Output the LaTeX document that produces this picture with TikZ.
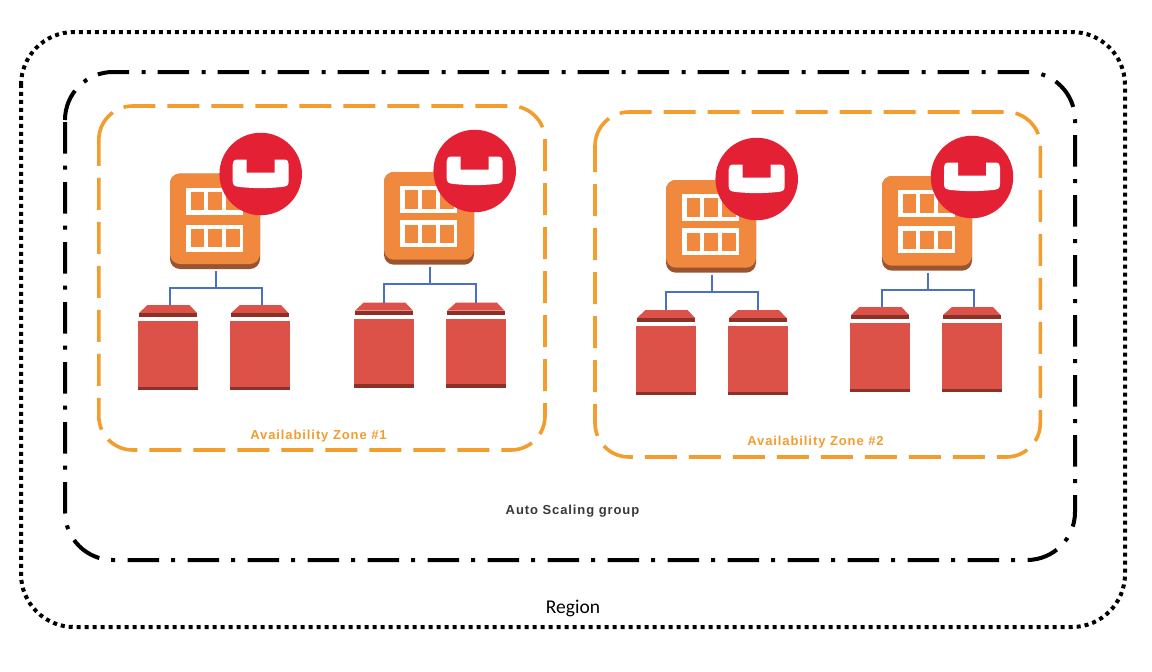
\documentclass[tikz,border=0pt]{standalone}
\usepackage{fontspec}
\setmainfont{Liberation Sans}
\newfontfamily\calfont{Carlito}
\definecolor{zoneor}{HTML}{F29D2E}
\definecolor{iconor}{HTML}{F0883D}
\definecolor{iconbr}{HTML}{9A5530}
\definecolor{cbred}{HTML}{E42034}
\definecolor{diskred}{HTML}{DC5249}
\definecolor{diskdk}{HTML}{8A3128}
\definecolor{linkblue}{HTML}{4A6FC4}
\tikzset{
  regionbox/.style={draw=black,line width=4pt,dash pattern=on 4pt off 4pt},
  asgbox/.style={draw=black,line width=4pt,dash pattern=on 31.5pt off 12.5pt on 4pt off 12pt},
  zonebox/.style={draw=zoneor,line width=3.6pt,dash pattern=on 32pt off 12pt},
  zonelabel/.style={text=zoneor,font=\bfseries\fontsize{13}{15}\selectfont\addfontfeatures{LetterSpace=7},inner sep=0pt},
  asglabel/.style={text=black!78,font=\bfseries\fontsize{13}{15}\selectfont\addfontfeatures{LetterSpace=7},inner sep=0pt},
  regionlabel/.style={text=black,font=\calfont\fontsize{19.5}{21}\selectfont,inner sep=0pt},
  link/.style={draw=linkblue,line width=1.5pt},
  iconbody/.style={fill=iconor,rounded corners=10pt},
  iconbase/.style={fill=iconbr,rounded corners=10pt},
  badge/.style={circle,fill=cbred,minimum size=82.5pt,inner sep=0pt},
  anchorbox/.style={minimum width=90pt,inner sep=0pt,outer sep=0pt},
  diskbody/.style={fill=diskred,minimum width=60pt,minimum height=69pt,inner sep=0pt,outer sep=0pt},
}
% rounded outline that starts where the top-left corner begins: style, x1, y1, x2, y2, radius
\newcommand{\roundoutline}[6]{%
  \draw[#1] (#2,#3+#6) arc[start angle=180,end angle=270,radius=#6]
    -- (#4-#6,#3) arc[start angle=270,end angle=360,radius=#6]
    -- (#4,#5-#6) arc[start angle=0,end angle=90,radius=#6]
    -- (#2+#6,#5) arc[start angle=90,end angle=180,radius=#6] -- cycle;}
% #1 prefix, #2 icon left, #3 icon top, #4 icon height, #5 bus offset,
% #6 disk top offset, #7 disk x shift, #8 #9 badge centre offset
\newcommand{\dbserver}[9]{%
  \begin{scope}[shift={(#2,#3)}]
    \fill[iconbase] (0,0) rectangle (90,#4);
    \fill[iconbody] (0,0) rectangle (90,#4-5);
    \node[anchorbox,minimum height=#4pt,anchor=north west] (#1srv) at (0,0) {};
    \foreach \yy in {14,#4-44.5}{
      \fill[white] (16,\yy) rectangle +(57,27);
      \foreach \xx in {20.5,38.2,56}{
        \fill[iconor] (\xx,\yy+4.3) rectangle +(13.5,18.5);
      }
    }
    \node[badge] (#1badge) at (#8,#9) {};
    \begin{scope}[shift={(#8,#9)}]
      \fill[white] (-14,-14.5) -- (-23,-14.5) .. controls (-27,-14.5) and (-28,-12.5) .. (-28,-9.5)
        -- (-28,7) .. controls (-28,11.5) and (-26,12.5) .. (-21,13) .. controls (-6,14.5) and (6,14.5) .. (21,13)
        .. controls (26,12.5) and (28,11.5) .. (28,7) -- (28,-9.5) .. controls (28,-12.5) and (27,-14.5) .. (23,-14.5)
        -- (14,-14.5) -- (14,-1.5) -- (-14,-1.5) -- cycle;
    \end{scope}
    \begin{scope}[shift={(#7,#6)}]
      \fill[diskred] (-31,8) -- (-22.5,0) -- (19.5,0) -- (27,8) -- cycle;
      \fill[diskdk] (-31,8) rectangle (27,12);
      \fill[diskred] (61,8) -- (70,0) -- (111,0) -- (118.5,8) -- cycle;
      \fill[diskdk] (61,8) rectangle (118.5,12);
      \node[diskbody,anchor=north west] (#1dl) at (-32,16) {};
      \fill[diskdk] (-32,81.7) rectangle (28,85);
      \node[diskbody,anchor=north west] (#1dr) at (60,16) {};
      \fill[diskdk] (60,81.7) rectangle (120,85);
    \end{scope}
    \coordinate (#1tl) at (0,#6);
    \coordinate (#1tr) at (92,#6);
    \coordinate (#1bus) at (46,#5);
    \draw[link] ([xshift=1pt,yshift=-2pt]#1srv.south) -- (#1bus);
    \draw[link] (#1tl) -- (#1tl |- #1bus) -- (#1tr |- #1bus) -- (#1tr);
  \end{scope}}
\begin{document}
\begin{tikzpicture}[x=1pt,y=-1pt]
\useasboundingbox (0,0) rectangle (1152,672);
\fill[white] (0,0) rectangle (1152,672);
\roundoutline{regionbox}{21}{32}{1125}{627}{53}
\roundoutline{asgbox}{65}{72}{1075}{560}{48}
\roundoutline{zonebox}{98.8}{106}{545}{450}{34}
\roundoutline{zonebox}{595}{112}{1040.3}{457}{34}
\dbserver{a}{170}{173.5}{95.5}{114.5}{131.5}{0}{90.7}{0.5}
\dbserver{b}{384}{172}{92.7}{112}{130.7}{2}{90.7}{-1}
\dbserver{c}{666}{180}{92.7}{112}{130}{2}{90.7}{-1}
\dbserver{d}{882}{176}{94.7}{114}{131}{0}{90}{1}
\node[zonelabel] (zonelabelone) at (318.5,436) {Availability Zone \#1};
\node[zonelabel] (zonelabeltwo) at (815.5,442) {Availability Zone \#2};
\node[asglabel] (asglabel) at (572.5,511) {Auto Scaling group};
\node[regionlabel] (regionlabel) at (573,608) {Region};
\end{tikzpicture}
\end{document}
